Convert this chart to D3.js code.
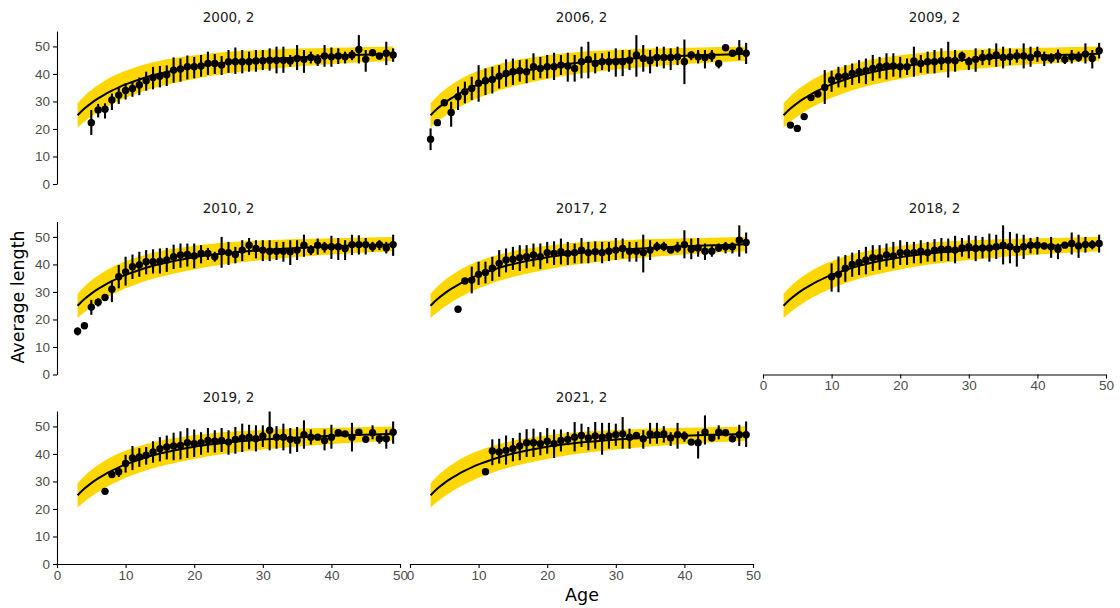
<!DOCTYPE html>
<html>
<head>
<meta charset="utf-8">
<script src="https://cdn.jsdelivr.net/npm/d3@7"></script>
<style>
  body { margin: 0; background: #fff; }
  svg { display: block; font-family: "DejaVu Sans", sans-serif; }
  .strip { font-size: 13.5px; fill: #1a1a1a; text-anchor: middle; }
  .axis text { font-size: 13.5px; fill: #4d4d4d; }
  .axis path, .axis line { stroke: #000; stroke-width: 1.1; }
  .axis-title { font-size: 17.5px; fill: #000; text-anchor: middle; }
</style>
</head>
<body>
<svg id="chart" width="1120" height="608"></svg>
<script>
// ── Facets ──
const panelTitles = ["2000, 2", "2006, 2", "2009, 2", "2010, 2", "2017, 2", "2018, 2", "2019, 2", "2021, 2"];
const firstAges = [5, 3, 4, 3, 7, 10, 7, 11];

// ── Observed mean length by age (consecutive ages from firstAges) ──
const mean2000 = [22.3, 26.9, 27.2, 30.5, 32.3, 34.0, 34.7, 36.0, 37.5, 38.7, 39.2, 39.7, 41.4, 41.8, 42.6, 42.6, 42.9, 43.8, 43.8, 43.2, 44.4, 44.4, 44.4, 44.4, 44.7, 44.8, 45.0, 45.0, 45.0, 44.7, 45.6, 45.3, 46.0, 45.0, 46.5, 46.2, 46.5, 46.2, 46.9, 48.9, 45.3, 47.7, 46.5, 47.5, 46.9];
const high2000 = [26.9, 29.1, 29.3, 32.9, 35.1, 36.6, 37.2, 38.7, 40.8, 42.6, 42.9, 43.1, 46.0, 45.6, 46.7, 46.2, 46.9, 48.1, 47.2, 46.5, 48.7, 49.6, 48.7, 48.1, 48.7, 48.7, 49.3, 49.9, 49.9, 46.9, 50.5, 48.7, 48.1, 47.2, 50.5, 49.6, 49.3, 48.1, 48.7, 54.1, 48.7, 48.1, 47.5, 51.7, 49.3];
const low2000 = [17.8, 24.2, 23.8, 26.9, 29.1, 30.7, 31.7, 32.3, 33.9, 34.4, 35.1, 35.6, 36.8, 37.2, 38.0, 38.4, 39.0, 39.6, 40.0, 39.6, 40.4, 40.0, 40.2, 40.8, 40.8, 41.4, 41.2, 40.2, 40.4, 42.6, 41.4, 40.4, 43.8, 42.9, 42.6, 42.6, 43.6, 43.8, 45.0, 43.8, 40.8, 47.2, 45.3, 43.2, 44.4];

const mean2006 = [16.3, 22.3, 29.5, 26.0, 31.7, 33.5, 34.7, 36.6, 37.5, 38.0, 39.2, 40.2, 40.8, 41.2, 40.8, 42.6, 42.0, 42.6, 42.6, 43.2, 42.9, 42.0, 44.4, 45.3, 43.8, 44.4, 44.4, 44.4, 44.4, 45.0, 46.9, 45.6, 44.8, 46.0, 46.0, 46.0, 46.2, 44.4, 46.9, 46.2, 46.0, 46.5, 43.8, 49.5, 47.5, 48.4, 47.5];
const high2006 = [20.2, 22.8, 30.0, 29.9, 35.4, 37.2, 39.0, 43.2, 42.0, 42.6, 43.2, 45.3, 45.6, 45.0, 45.3, 47.5, 46.2, 46.9, 47.7, 46.9, 47.7, 46.9, 49.9, 51.7, 47.5, 47.5, 48.1, 49.3, 48.7, 48.7, 54.1, 50.5, 48.7, 49.9, 49.9, 49.3, 49.9, 52.5, 48.1, 48.7, 48.7, 48.7, 45.0, 50.0, 48.0, 52.3, 51.3];
const low2006 = [12.3, 21.8, 29.0, 20.8, 26.9, 29.3, 30.5, 29.9, 32.3, 32.9, 34.7, 35.4, 36.0, 37.2, 36.6, 37.8, 38.4, 38.4, 37.8, 39.6, 37.2, 37.2, 38.4, 38.4, 40.2, 41.4, 40.8, 39.0, 39.2, 41.4, 39.0, 40.8, 40.2, 42.6, 42.0, 41.4, 43.2, 36.3, 45.0, 43.8, 42.0, 44.4, 42.0, 49.0, 47.0, 45.0, 43.6];

const mean2009 = [21.4, 20.2, 24.5, 31.4, 32.7, 35.1, 37.8, 39.0, 39.2, 40.2, 40.8, 41.2, 42.0, 42.6, 42.9, 42.9, 42.6, 42.6, 44.7, 43.8, 44.4, 44.4, 44.8, 45.0, 44.8, 46.5, 44.4, 45.3, 46.0, 46.2, 46.9, 46.0, 46.2, 46.5, 46.5, 46.0, 47.2, 46.0, 45.6, 46.5, 45.3, 46.2, 46.0, 47.2, 45.6, 48.4];
const high2009 = [21.9, 20.7, 25.0, 31.9, 33.2, 41.4, 41.2, 42.6, 43.2, 43.8, 45.0, 45.6, 46.9, 46.2, 47.5, 47.5, 46.2, 45.6, 49.9, 46.9, 48.1, 48.7, 49.3, 51.7, 48.7, 48.1, 46.2, 49.3, 48.7, 49.3, 51.1, 49.9, 49.3, 48.9, 51.1, 49.9, 49.9, 48.1, 47.5, 48.9, 47.2, 48.7, 48.1, 51.1, 48.7, 51.3];
const low2009 = [20.9, 19.7, 24.0, 30.9, 32.2, 29.1, 33.5, 35.1, 35.1, 36.0, 36.6, 36.3, 37.5, 38.4, 38.0, 39.0, 38.7, 39.6, 39.0, 40.4, 40.2, 40.2, 41.4, 38.7, 40.8, 44.4, 41.4, 40.8, 43.2, 43.2, 42.6, 42.0, 43.2, 44.1, 42.0, 42.6, 44.4, 42.9, 43.8, 44.1, 43.6, 43.8, 44.4, 43.8, 42.0, 45.6];

const mean2010 = [15.7, 17.7, 24.5, 26.3, 28.0, 31.0, 35.5, 37.3, 39.2, 39.8, 41.0, 41.0, 41.2, 41.6, 42.8, 43.4, 43.6, 43.1, 44.0, 44.0, 42.8, 44.6, 44.3, 43.6, 45.2, 47.0, 45.8, 45.2, 44.8, 44.8, 44.8, 44.6, 45.2, 47.0, 45.2, 47.0, 46.4, 46.4, 46.4, 45.8, 47.2, 47.2, 47.2, 46.4, 47.2, 46.0, 47.2];
const high2010 = [17.1, 18.2, 27.1, 27.7, 28.5, 34.3, 39.8, 42.8, 43.6, 44.6, 45.2, 45.5, 45.8, 46.0, 47.2, 47.6, 47.6, 47.6, 47.0, 46.0, 44.6, 50.0, 48.2, 46.4, 48.8, 49.6, 48.8, 48.8, 48.8, 48.2, 48.2, 48.8, 48.8, 50.8, 47.0, 49.4, 48.2, 50.4, 49.6, 48.8, 50.8, 50.6, 49.6, 48.2, 48.8, 48.2, 50.8];
const low2010 = [14.2, 17.2, 21.7, 24.7, 27.5, 26.3, 31.3, 32.3, 34.7, 35.5, 36.4, 36.7, 36.7, 37.3, 38.3, 38.8, 39.2, 38.6, 40.4, 41.6, 41.0, 38.8, 39.8, 40.4, 41.2, 43.4, 42.2, 41.2, 41.2, 41.6, 41.0, 39.8, 41.6, 42.8, 43.4, 43.6, 44.3, 42.0, 41.6, 41.6, 43.4, 43.6, 43.6, 44.6, 45.2, 44.0, 43.1];

const mean2017 = [23.7, 34.0, 34.3, 36.4, 37.1, 38.6, 40.4, 41.6, 41.9, 42.4, 42.8, 43.4, 42.8, 44.3, 44.0, 44.6, 44.0, 44.3, 45.2, 44.3, 44.6, 44.3, 44.8, 45.2, 45.8, 44.8, 44.8, 44.3, 45.2, 46.4, 46.4, 45.2, 46.0, 47.2, 45.5, 46.0, 44.8, 44.8, 46.0, 46.4, 46.4, 48.8, 48.0];
const high2017 = [24.2, 34.5, 39.2, 41.0, 41.0, 42.8, 45.2, 45.8, 46.4, 47.0, 47.0, 47.6, 47.6, 48.2, 48.4, 49.4, 48.2, 47.6, 49.6, 48.2, 48.4, 48.2, 48.2, 49.6, 49.4, 48.2, 48.2, 50.8, 48.8, 48.2, 48.2, 45.7, 48.2, 52.4, 49.4, 49.6, 47.6, 46.7, 47.6, 48.2, 48.0, 54.2, 51.6];
const low2017 = [23.2, 33.5, 29.5, 32.5, 33.1, 34.0, 35.5, 37.1, 38.0, 37.6, 38.6, 39.2, 38.3, 40.4, 39.8, 40.0, 39.8, 40.4, 40.4, 40.4, 41.0, 40.4, 41.2, 41.6, 42.2, 41.0, 41.0, 37.1, 41.6, 44.8, 44.8, 44.7, 44.3, 42.2, 41.9, 42.8, 41.6, 42.8, 44.6, 44.0, 44.0, 42.8, 44.0];

const mean2018 = [35.5, 36.4, 38.6, 40.0, 40.7, 41.6, 42.4, 42.4, 43.4, 43.1, 44.3, 44.3, 44.3, 44.8, 44.3, 45.2, 45.5, 45.5, 45.2, 46.0, 46.4, 45.8, 46.0, 46.0, 46.4, 47.0, 46.4, 45.5, 46.4, 47.0, 47.0, 46.7, 46.4, 45.5, 47.0, 47.6, 46.7, 47.2, 47.2, 47.6];
const high2018 = [40.4, 42.9, 43.4, 44.3, 45.2, 46.4, 47.0, 47.0, 47.6, 48.2, 48.8, 48.2, 48.2, 48.8, 48.2, 49.2, 49.6, 49.4, 50.4, 49.6, 50.6, 50.4, 50.0, 51.2, 50.8, 54.2, 51.8, 51.2, 50.8, 49.6, 50.0, 47.2, 50.0, 47.6, 47.5, 51.6, 50.8, 50.0, 48.8, 50.8];
const low2018 = [30.1, 29.9, 33.7, 35.5, 36.1, 36.4, 37.6, 38.0, 39.2, 38.6, 39.8, 39.8, 40.4, 40.4, 41.0, 41.0, 41.2, 41.2, 40.4, 42.8, 42.2, 41.2, 42.2, 41.0, 42.0, 40.0, 40.4, 39.2, 42.0, 44.0, 43.6, 46.2, 42.4, 41.9, 46.5, 43.6, 42.4, 44.3, 45.5, 44.3];

const mean2019 = [26.4, 32.5, 33.5, 36.5, 38.5, 38.9, 39.5, 40.7, 41.9, 42.5, 42.9, 43.1, 44.1, 43.7, 44.1, 44.9, 44.6, 44.9, 44.3, 45.3, 45.8, 46.1, 45.5, 46.5, 48.6, 46.1, 46.1, 45.3, 44.9, 47.0, 46.1, 46.1, 44.9, 46.1, 47.7, 47.3, 46.1, 47.9, 45.3, 47.7, 45.5, 45.5, 47.9];
const high2019 = [26.9, 33.0, 34.9, 39.7, 42.9, 42.1, 42.5, 44.6, 46.1, 46.7, 47.7, 48.2, 49.4, 48.9, 47.9, 49.4, 48.6, 49.4, 48.6, 49.8, 51.0, 50.6, 50.4, 50.4, 55.4, 50.1, 51.0, 49.4, 49.8, 52.2, 48.9, 46.6, 48.9, 50.6, 48.2, 47.8, 51.3, 48.4, 45.8, 50.4, 47.0, 48.9, 51.8];
const low2019 = [25.9, 32.0, 31.6, 33.2, 34.1, 35.3, 36.1, 36.8, 37.3, 38.0, 37.7, 38.0, 38.5, 38.9, 39.7, 40.5, 40.5, 40.7, 39.7, 40.1, 40.7, 41.7, 40.9, 42.5, 41.3, 41.9, 41.3, 40.1, 40.7, 41.9, 43.4, 45.6, 41.3, 41.9, 47.2, 46.8, 40.9, 47.4, 44.8, 45.3, 43.7, 41.9, 43.7];

const mean2021 = [33.5, 41.1, 40.7, 41.3, 41.9, 42.9, 44.1, 44.1, 43.7, 44.6, 43.7, 44.9, 45.3, 46.1, 46.7, 45.8, 46.5, 46.1, 46.5, 47.0, 47.3, 46.1, 46.7, 45.5, 47.3, 47.0, 47.3, 45.8, 47.0, 46.5, 44.3, 44.1, 47.9, 45.8, 47.9, 47.7, 45.5, 47.0, 47.0];
const high2021 = [34.0, 45.3, 45.5, 46.7, 45.8, 47.7, 49.0, 49.2, 47.9, 49.4, 48.9, 48.9, 48.0, 51.6, 51.0, 49.8, 51.6, 51.3, 51.3, 51.0, 53.4, 49.2, 47.9, 48.6, 51.3, 51.3, 50.1, 47.9, 51.3, 48.2, 44.8, 48.2, 54.0, 46.3, 50.4, 48.2, 46.0, 50.6, 51.8];
const low2021 = [33.0, 35.9, 36.5, 36.1, 37.3, 37.7, 38.9, 38.9, 39.5, 40.1, 38.5, 40.9, 43.2, 40.9, 42.5, 41.3, 41.9, 39.7, 41.9, 42.9, 41.9, 41.9, 45.5, 41.9, 43.7, 43.7, 44.1, 42.9, 41.9, 44.4, 43.8, 38.3, 43.4, 45.3, 45.3, 47.2, 45.0, 42.9, 42.5];

// ── Fitted growth curve and its interval (same in every panel) ──
const fitAges = [3, 4, 5, 6, 7, 8, 9, 10, 12, 14, 16, 18, 20, 23, 26, 30, 35, 40, 45, 49];
const fitMean = [25.0, 27.4, 29.4, 31.1, 32.6, 33.9, 35.1, 36.2, 38.0, 39.5, 40.7, 41.7, 42.6, 43.6, 44.4, 45.2, 46.0, 46.6, 47.0, 47.3];
const fitLow = [20.5, 22.6, 24.5, 26.2, 27.7, 29.0, 30.2, 31.3, 33.2, 34.8, 36.1, 37.2, 38.2, 39.5, 40.5, 41.6, 42.7, 43.6, 44.3, 44.8];
const fitHigh = [29.3, 32.0, 34.2, 36.0, 37.6, 39.0, 40.2, 41.2, 42.9, 44.2, 45.3, 46.1, 46.8, 47.6, 48.2, 48.7, 49.2, 49.5, 49.8, 50.0];

// ── Ticks ──
const xTicks = [0, 10, 20, 30, 40, 50];
const yTicks = [0, 10, 20, 30, 40, 50];

const series = [
  [mean2000, low2000, high2000], [mean2006, low2006, high2006], [mean2009, low2009, high2009],
  [mean2010, low2010, high2010], [mean2017, low2017, high2017], [mean2018, low2018, high2018],
  [mean2019, low2019, high2019], [mean2021, low2021, high2021]
];

// ── Layout ──
const colLeft = [57, 410, 763];
const rowBottom = [184, 374.5, 564];
const panelW = 343;
const panelH = 153;

const svg = d3.select("#chart");

const x = d3.scaleLinear().domain([0, 50]).range([0, panelW]);
const y = d3.scaleLinear().domain([0, 55.6]).range([panelH, 0]);

const fit = fitAges.map((a, i) => ({ age: a, mean: fitMean[i], low: fitLow[i], high: fitHigh[i] }));

const band = d3.area()
  .x(d => x(d.age))
  .y0(d => y(d.low))
  .y1(d => y(d.high))
  .curve(d3.curveMonotoneX);

const fitLine = d3.line()
  .x(d => x(d.age))
  .y(d => y(d.mean))
  .curve(d3.curveMonotoneX);

panelTitles.forEach((title, i) => {
  const col = i % 3;
  const row = Math.floor(i / 3);
  const [means, lows, highs] = series[i];
  const pts = means.map((m, j) => ({ age: firstAges[i] + j, mean: m, low: lows[j], high: highs[j] }));

  const g = svg.append("g")
    .attr("transform", `translate(${colLeft[col]},${rowBottom[row] - panelH})`);

  // strip title
  g.append("text")
    .attr("class", "strip")
    .attr("x", panelW / 2)
    .attr("y", -9)
    .text(title);

  g.append("path")
    .datum(fit)
    .attr("fill", "#ffd700")
    .attr("d", band);

  g.append("path")
    .datum(fit)
    .attr("fill", "none")
    .attr("stroke", "#000")
    .attr("stroke-width", 2)
    .attr("d", fitLine);

  g.selectAll(".bar")
    .data(pts)
    .join("line")
    .attr("class", "bar")
    .attr("x1", d => x(d.age))
    .attr("x2", d => x(d.age))
    .attr("y1", d => y(d.low))
    .attr("y2", d => y(d.high))
    .attr("stroke", "#000")
    .attr("stroke-width", 2.1);

  g.selectAll(".dot")
    .data(pts)
    .join("circle")
    .attr("class", "dot")
    .attr("cx", d => x(d.age))
    .attr("cy", d => y(d.mean))
    .attr("r", 3.7)
    .attr("fill", "#000");

  // y axis only on the left column
  if (col === 0) {
    g.append("g")
      .attr("class", "axis")
      .call(d3.axisLeft(y).tickValues(yTicks).tickSize(4).tickSizeOuter(0).tickPadding(3));
  }

  // x axis where no panel sits below
  if (row === 2 || i === 5) {
    g.append("g")
      .attr("class", "axis")
      .attr("transform", `translate(0,${panelH})`)
      .call(d3.axisBottom(x).tickValues(xTicks).tickSize(4).tickSizeOuter(0).tickPadding(2));
  }
});

// ── Axis titles ──
svg.append("text")
  .attr("class", "axis-title")
  .attr("x", 582)
  .attr("y", 601)
  .text("Age");

svg.append("text")
  .attr("class", "axis-title")
  .attr("transform", "translate(24,297) rotate(-90)")
  .text("Average length");
</script>
</body>
</html>
